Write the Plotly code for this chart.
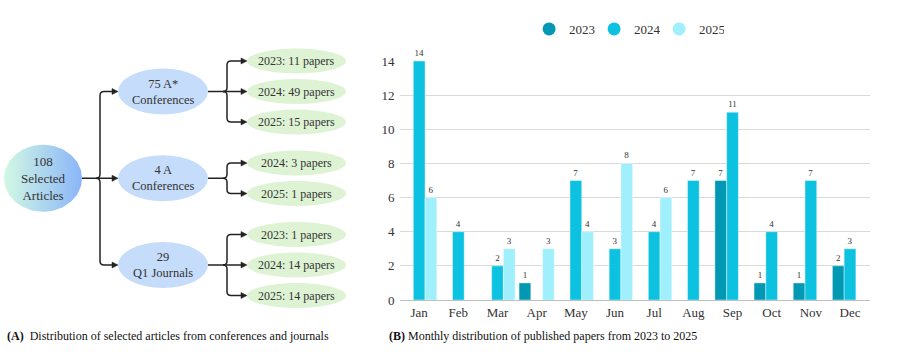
import numpy as np
import plotly.graph_objects as go

# ---------------- data ----------------
months = ["Jan", "Feb", "Mar", "Apr", "May", "Jun", "Jul", "Aug", "Sep", "Oct", "Nov", "Dec"]
papers_2023 = [0, 0, 0, 1, 0, 0, 0, 0, 7, 1, 1, 2]
papers_2024 = [14, 4, 2, 0, 7, 3, 4, 7, 11, 4, 7, 3]
papers_2025 = [6, 0, 3, 3, 4, 8, 6, 0, 0, 0, 0, 0]
series_names = ["2023", "2024", "2025"]
y_ticks = [0, 2, 4, 6, 8, 10, 12, 14]

root_label = "108<br>Selected<br>Articles"
mid_labels = ["75 A*<br>Conferences", "4 A<br>Conferences", "29<br>Q1 Journals"]
leaf_labels = [
    ["2023: 11 papers", "2024: 49 papers", "2025: 15 papers"],
    ["2024: 3 papers", "2025: 1 papers"],
    ["2023: 1 papers", "2024: 14 papers", "2025: 14 papers"],
]
caption_a = "<b>(A)</b>&nbsp;&nbsp;Distribution of selected articles from conferences and journals"
caption_b = "<b>(B)</b> Monthly distribution of published papers from 2023 to 2025"

# ---------------- style ----------------
FONT = "Liberation Serif"
TXT = "#333333"
colors = ["#0098B3", "#0DC2E1", "#A0EFFD"]
W, H = 897, 345

fig = go.Figure()

# ---------------- bar chart ----------------
for name, vals, col in zip(series_names, [papers_2023, papers_2024, papers_2025], colors):
    yv = [v if v > 0 else None for v in vals]
    fig.add_trace(go.Bar(
        x=months, y=yv, name=name, marker=dict(color=col, line=dict(color="rgba(255,255,255,0.7)", width=0.6)),
        text=[str(v) if v > 0 else "" for v in vals], textposition="outside",
        textfont=dict(family=FONT, size=9, color=TXT), cliponaxis=False,
        showlegend=False, xaxis="x", yaxis="y", hoverinfo="x+y",
    ))
    fig.add_trace(go.Scatter(
        x=[None], y=[None], mode="markers", name=name,
        marker=dict(symbol="circle", size=13, color=col), xaxis="x", yaxis="y",
    ))

# ---------------- tree diagram (pixel coordinates on x2/y2) ----------------
root_cx, root_rx, root_ry = 43, 39, 33.5
mid_cx, mid_rx, mid_ry = 163, 45, 23
leaf_cx, leaf_rx, leaf_ry = 296.5, 49.5, 12.5
leaf_top, leaf_step, group_gap = 61, 30.5, 10.5
split1_x, split2_x = 100, 227
MID_COL, LEAF_COL, LINE_COL = "#C5DCFA", "#DDF3D3", "#222222"

leaf_y = []
y = leaf_top
for g, grp in enumerate(leaf_labels):
    ys = []
    for _ in grp:
        ys.append(y)
        y += leaf_step
    y += group_gap
    leaf_y.append(ys)
mid_y = [(ys[0] + ys[-1]) / 2 for ys in leaf_y]
root_y = (mid_y[0] + mid_y[-1]) / 2

shapes = []
annotations = []


def ellipse(cx, cy, rx, ry, col):
    shapes.append(dict(type="circle", xref="x2", yref="y2", x0=cx - rx, x1=cx + rx,
                       y0=cy - ry, y1=cy + ry, fillcolor=col, line=dict(width=0), layer="below"))


def label(cx, cy, text, size=12):
    annotations.append(dict(x=cx, y=cy, xref="x2", yref="y2", text=text, showarrow=False,
                            font=dict(family=FONT, size=size, color=TXT), align="center"))


def connector(x_start, py, sx, targets, tip_x, r=4):
    shapes.append(dict(type="line", xref="x2", yref="y2", x0=x_start, x1=sx - r,
                       y0=py, y1=py, line=dict(color=LINE_COL, width=1.5)))
    for cy in targets:
        ah = 6
        if abs(cy - py) < 1:
            p = f"M {sx - r},{py} L {tip_x - ah},{cy}"
        else:
            s = 1 if cy > py else -1
            p = (f"M {sx - r},{py} Q {sx},{py} {sx},{py + s * r} "
                 f"L {sx},{cy - s * r} Q {sx},{cy} {sx + r},{cy} L {tip_x - ah},{cy}")
        shapes.append(dict(type="path", xref="x2", yref="y2", path=p,
                           line=dict(color=LINE_COL, width=1.5)))
        shapes.append(dict(type="path", xref="x2", yref="y2",
                           path=f"M {tip_x},{cy} L {tip_x - ah},{cy - 3} L {tip_x - ah},{cy + 3} Z",
                           fillcolor=LINE_COL, line=dict(color=LINE_COL, width=0.5)))


# root with gradient (scatter fill)
t = np.linspace(0, 2 * np.pi, 120)
fig.add_trace(go.Scatter(
    x=root_cx + root_rx * np.cos(t), y=root_y + root_ry * np.sin(t), mode="lines",
    fill="toself", line=dict(width=0, color="rgba(0,0,0,0)"),
    fillgradient=dict(type="horizontal", colorscale=[[0, "#D2F8E4"], [1, "#8AB5F8"]]),
    xaxis="x2", yaxis="y2", showlegend=False, hoverinfo="skip",
))
label(root_cx, root_y, root_label, 13)

connector(root_cx + root_rx, root_y, split1_x, mid_y, mid_cx - mid_rx)
for i, my in enumerate(mid_y):
    ellipse(mid_cx, my, mid_rx, mid_ry, MID_COL)
    label(mid_cx, my, mid_labels[i], 12.5)
    connector(mid_cx + mid_rx, my, split2_x, leaf_y[i], leaf_cx - leaf_rx)
    for ly, lt in zip(leaf_y[i], leaf_labels[i]):
        ellipse(leaf_cx, ly, leaf_rx, leaf_ry, LEAF_COL)
        label(leaf_cx, ly, lt, 12)

# captions
annotations.append(dict(x=5, y=336, xref="x2", yref="y2", text=caption_a, showarrow=False,
                        xanchor="left", font=dict(family=FONT, size=12, color="#111")))
annotations.append(dict(x=387, y=336, xref="x2", yref="y2", text=caption_b, showarrow=False,
                        xanchor="left", font=dict(family=FONT, size=12, color="#111")))

px0, px1 = 399.6, 869.6
py_top, py_bot = 61, 300

fig.update_layout(
    width=W, height=H, margin=dict(l=0, r=0, t=0, b=0, autoexpand=False),
    paper_bgcolor="white", plot_bgcolor="rgba(0,0,0,0)",
    barmode="group", bargap=0.1, bargroupgap=0,
    font=dict(family=FONT, color=TXT),
    xaxis=dict(domain=[px0 / W, px1 / W], type="category", showline=True, linecolor="#bfbfbf",
               linewidth=1, tickfont=dict(family=FONT, size=13, color=TXT), ticks="", anchor="y",
               automargin=False),
    yaxis=dict(domain=[1 - py_bot / H, 1 - py_top / H], range=[0, 14], tickvals=y_ticks,
               showgrid=True, gridcolor="#d9d9d9", gridwidth=1, zeroline=False,
               tickfont=dict(family=FONT, size=13, color=TXT), ticklabelstandoff=4, anchor="x",
               automargin=False),
    xaxis2=dict(domain=[0, 1], range=[0, W], visible=False, anchor="y2", fixedrange=True),
    yaxis2=dict(domain=[0, 1], range=[H, 0], visible=False, anchor="x2", fixedrange=True),
    legend=dict(orientation="h", x=(px0 + px1 - 16) / 2 / W, xanchor="center", y=1 - 29 / H,
                yanchor="middle", font=dict(family=FONT, size=13, color=TXT), itemsizing="trace",
                entrywidth=20, bgcolor="rgba(0,0,0,0)"),
    shapes=shapes, annotations=annotations,
)

fig.write_html("out.html", config={"displayModeBar": False},
               post_script="document.body.style.margin='0';document.body.style.overflow='hidden';")
